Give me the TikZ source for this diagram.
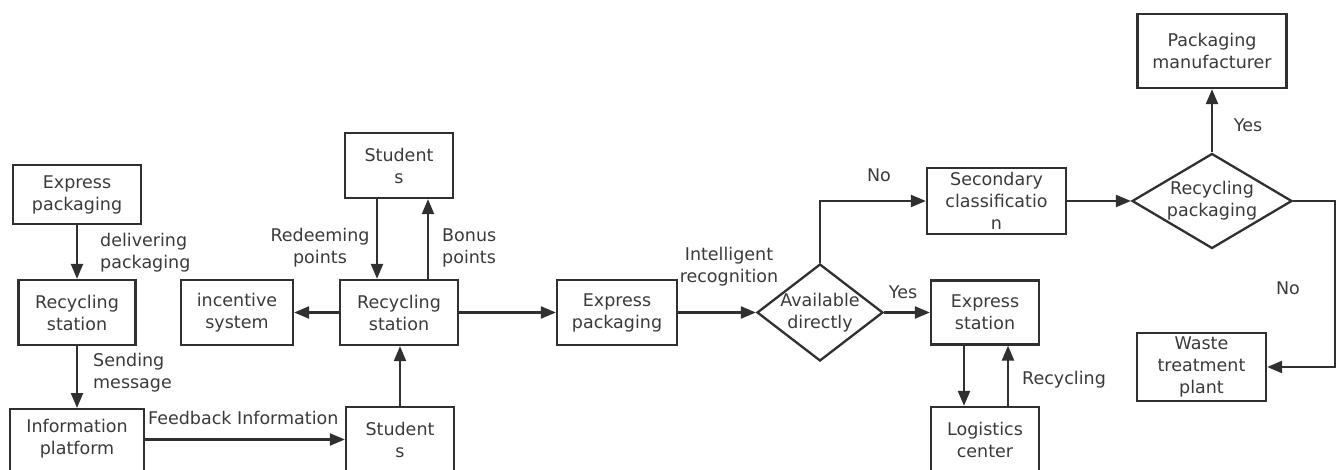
\documentclass[tikz,border=0pt]{standalone}
\usepackage{fontspec}
\setmainfont{DejaVu Sans}
\usetikzlibrary{arrows.meta,shapes.geometric,calc}
\definecolor{ln}{HTML}{303030}
\definecolor{tx}{HTML}{3A3A3A}
\begin{document}
\begin{tikzpicture}[x=1pt,y=-1pt,
  every node/.style={font=\fontsize{17.5}{22}\selectfont, text=tx},
  box/.style={draw=ln, line width=2.3pt, rectangle, inner sep=0pt, align=center},
  diam/.style={draw=ln, line width=2.3pt, diamond, inner sep=0pt},
  lab/.style={inner sep=0pt},
  arr/.style={draw=ln, line width=2.3pt, -{Triangle[length=15pt,width=12pt]}}]
\useasboundingbox (0,0) rectangle (1339,470);
% left column
\node[box, minimum width=128, minimum height=59] (ep1) at (77,194.5) {Express\\packaging};
\node[box, minimum width=117, minimum height=65] (rs1) at (77,312.5) {Recycling\\station};
\node[box, minimum width=134, minimum height=80, anchor=north] (ip) at (77,408) {};
\node[lab, align=center] (iptext) at (77,439) {Information\\platform};
% middle
\node[box, minimum width=108, minimum height=65] (stuTop) at (399,165.5) {Student\\s};
\node[box, minimum width=118, minimum height=65] (rs2) at (399,312.5) {Recycling\\station};
\node[box, minimum width=112, minimum height=65] (inc) at (237,312.5) {incentive\\system};
\node[box, minimum width=108, minimum height=65] (stuBot) at (400,439.5) {Student\\s};
\node[box, minimum width=120, minimum height=65] (ep2) at (617,312.5) {Express\\packaging};
% decisions
\node[diam, minimum width=126, minimum height=97] (d1) at (820,312.5) {};
\node[lab, align=center] (d1t) at (d1.center) {Available\\directly};
\node[box, minimum width=139, minimum height=66] (sec) at (996.5,201) {\fontsize{17.5}{21}\selectfont Secondary\\classificatio\\n};
\node[diam, minimum width=160, minimum height=95] (d2) at (1212,201) {};
\node[lab, align=center] (d2t) at (d2.center) {Recycling\\packaging};
\node[box, minimum width=149, minimum height=74] (pm) at (1212,51) {Packaging\\manufacturer};
\node[box, minimum width=108, minimum height=64] (es) at (985,312.5) {Express\\station};
\node[box, minimum width=108, minimum height=65] (lc) at (985,439.5) {Logistics\\center};
\node[box, minimum width=129, minimum height=68] (wtp) at (1201.5,367) {Waste\\treatment\\plant};
% connectors
\draw[arr] (ep1.south) -- (rs1.north);
\draw[arr] (rs1.south) -- (ip.north);
\draw[arr] (ip.east |- stuBot.west) -- (stuBot.west);
\draw[arr] (stuBot.north) -- (stuBot.north |- rs2.south);
\draw[arr] ([xshift=-22pt]stuTop.south) -- ([xshift=-22pt]rs2.north);
\draw[arr] ([xshift=29pt]rs2.north) -- ([xshift=29pt]stuTop.south);
\draw[arr] (rs2.west) -- (inc.east);
\draw[arr] (rs2.east) -- (ep2.west);
\draw[arr] (ep2.east) -- (d1.west);
\draw[arr] (d1.north) |- (sec.west);
\draw[arr] (d1.east) -- (es.west);
\draw[arr] (sec.east) -- (d2.west);
\draw[arr] (d2.north) -- (pm.south);
\coordinate (cr) at (1335,201);
\draw[arr] (d2.east) -- (cr) |- (wtp.east);
\draw[arr] ([xshift=-21pt]es.south) -- ([xshift=-21pt]lc.north);
\draw[arr] ([xshift=23pt]lc.north) -- ([xshift=23pt]es.south);
% labels
\node[lab, align=left, anchor=west] (l1) at (100,252.5) {delivering\\packaging};
\node[lab, align=left, anchor=west] (l2) at (93,373) {Sending\\message};
\node[lab, anchor=west] (l3) at (148,418) {Feedback Information};
\node[lab, align=center] (l4) at (320,248) {Redeeming\\points};
\node[lab, align=left, anchor=west] (l5) at (442,248) {Bonus\\points};
\node[lab, align=center] (l6) at (729,267) {Intelligent\\recognition};
\node[lab] (l7) at (879,175) {No};
\node[lab] (l8) at (903,292) {Yes};
\node[lab] (l9) at (1248,125) {Yes};
\node[lab] (l10) at (1288,288) {No};
\node[lab] (l11) at (1064,380) {Recycling};
\end{tikzpicture}
\end{document}
